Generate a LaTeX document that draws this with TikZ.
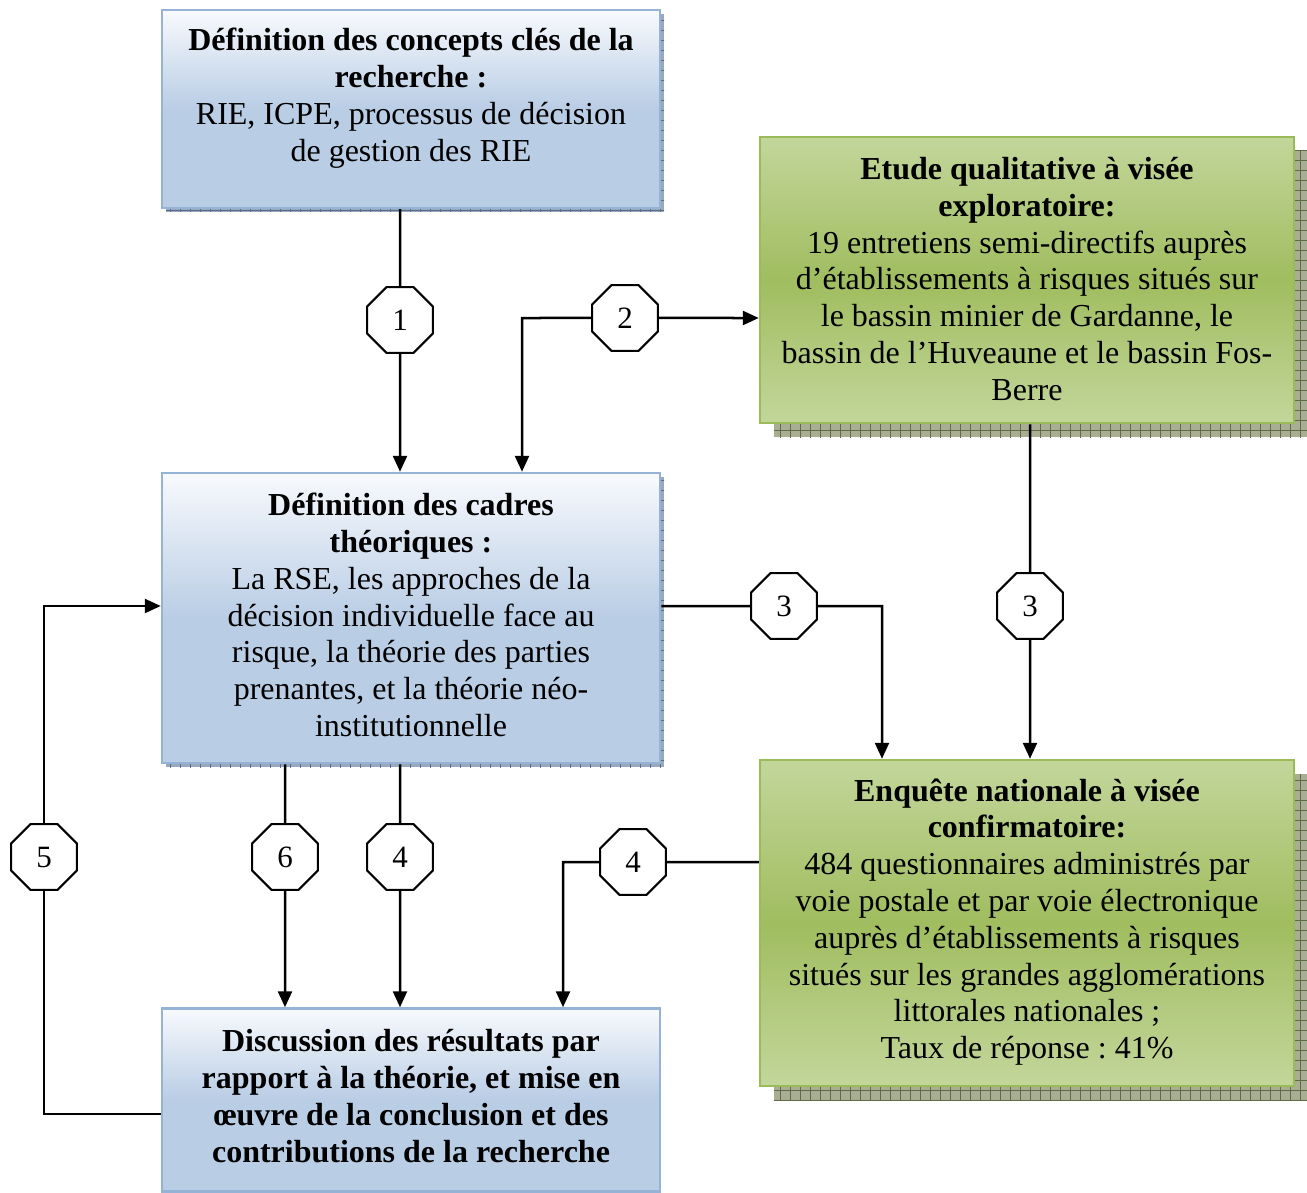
\documentclass[tikz,border=0pt]{standalone}
\usepackage{fontspec}
\setmainfont{Liberation Serif}
\usetikzlibrary{shapes.geometric,arrows.meta}
\frenchspacing
\definecolor{bT}{HTML}{F8FAFD}
\definecolor{bB}{HTML}{B9CDE5}
\definecolor{bBorder}{HTML}{95B3D7}
\definecolor{gL}{HTML}{C3D69B}
\definecolor{gD}{HTML}{A0BD5F}
\definecolor{gBorder}{HTML}{9BBB59}
\definecolor{gSh}{HTML}{A8AD94}
\definecolor{gShL}{HTML}{5E6B44}
\definecolor{bSh}{HTML}{9AA8BC}
\definecolor{bShL}{HTML}{5A6E8C}
\pgfdeclareverticalshading{blueshade}{100bp}{color(0bp)=(bB); color(50bp)=(bB); color(75bp)=(bT); color(100bp)=(bT)}
\pgfdeclareverticalshading{greenshade}{100bp}{color(0bp)=(gL); color(25bp)=(gL); color(50bp)=(gD); color(75bp)=(gL); color(100bp)=(gL)}
\tikzset{
  bluebox/.style={rectangle, draw=bBorder, line width=2.5pt, shading=blueshade, inner sep=0pt},
  greenbox/.style={rectangle, draw=gBorder, line width=2.5pt, shading=greenshade, inner sep=0pt},
  boxtext/.style={align=center, inner sep=0pt, font=\fontsize{32}{36.8}\selectfont\frenchspacing},
  octa/.style={regular polygon, regular polygon sides=8, draw=black, fill=white, line width=2pt, minimum size=71pt, inner sep=0pt, font=\fontsize{31}{36}\selectfont},
  conn/.style={line width=2.5pt, black},
  arr/.style={conn, -{Triangle[length=16pt,width=14pt]}}
}
\newcommand{\hatchshadow}[6]{%
  \begin{scope}
    \clip (#1,#2) rectangle (#3,#4);
    \fill[#5] (#1,#2) rectangle (#3,#4);
    \draw[#6, line width=0.8pt, step=10pt] (#1-10,#2-10) grid (#3+10,#4+10);
  \end{scope}}
\begin{document}
\begin{tikzpicture}[x=1pt,y=-1pt]
\useasboundingbox (0,0) rectangle (1307,1193);
% shadows
\hatchshadow{166}{14}{664}{212}{bSh}{bShL}
\hatchshadow{166}{477}{664}{767}{bSh}{bShL}
\hatchshadow{774}{151}{1307}{437}{gSh}{gShL}
\hatchshadow{774}{774}{1307}{1100}{gSh}{gShL}
% boxes
\node[bluebox, minimum width=498pt, minimum height=198pt] (A) at (411,109) {};
\node[greenbox, minimum width=534pt, minimum height=286pt] (B) at (1027,280) {};
\node[bluebox, minimum width=498pt, minimum height=290pt] (C) at (411,618) {};
\node[greenbox, minimum width=534pt, minimum height=326pt] (D) at (1027,923) {};
\node[bluebox, minimum width=498pt, minimum height=183pt] (E) at (411,1100) {};
% texts
\node[boxtext] (tA) at (411,98) {\textbf{Définition des concepts clés de la}\\\textbf{recherche :}\\RIE, ICPE, processus de décision\\de gestion des RIE};
\node[boxtext] (tB) at (1027,279) {\textbf{Etude qualitative à visée}\\\textbf{exploratoire:}\\19 entretiens semi-directifs auprès\\d’établissements à risques situés sur\\le bassin minier de Gardanne, le\\bassin de l’Huveaune et le bassin Fos-\\Berre};
\node[boxtext] (tC) at (411,615) {\textbf{Définition des cadres}\\\textbf{théoriques :}\\La RSE, les approches de la\\décision individuelle face au\\risque, la théorie des parties\\prenantes, et la théorie néo-\\institutionnelle};
\node[boxtext] (tD) at (1027,922) {\textbf{Enquête nationale à visée}\\\textbf{confirmatoire:}\\484 questionnaires administrés par\\voie postale et par voie électronique\\auprès d’établissements à risques\\situés sur les grandes agglomérations\\littorales nationales ;\\Taux de réponse : 41\%};
\node[boxtext] (tE) at (411,1096) {\textbf{Discussion des résultats par}\\\textbf{rapport à la théorie, et mise en}\\\textbf{œuvre de la conclusion et des}\\\textbf{contributions de la recherche}};
% octagons
\node[octa] (o1) at (400,320) {1};
\node[octa] (o2) at (625,318) {2};
\node[octa] (o3a) at (784,606) {3};
\node[octa] (o3b) at (1030,606) {3};
\node[octa] (o5) at (44,857) {5};
\node[octa] (o6) at (285,857) {6};
\node[octa] (o4a) at (400,857) {4};
\node[octa] (o4b) at (633,862) {4};
% helper coordinates
\coordinate (k2) at (522,318);
\coordinate (k3) at (882,606);
\coordinate (k4) at (563,862);
\coordinate (k5a) at (44,1114);
\coordinate (k5b) at (44,606);
% connectors
\draw[conn] (A.south -| o1) -- (o1);
\draw[arr] (o1) -- (o1 |- C.north);
\draw[arr] (o2) -- (k2) -- (k2 |- C.north);
\draw[arr] (o2) -- (o2 -| B.west);
\draw[conn] (C.east |- o3a) -- (o3a);
\draw[arr] (o3a) -- (k3) -- (k3 |- D.north);
\draw[conn] (B.south -| o3b) -- (o3b);
\draw[arr] (o3b) -- (o3b |- D.north);
\draw[conn] (C.south -| o6) -- (o6);
\draw[arr] (o6) -- (o6 |- E.north);
\draw[conn] (C.south -| o4a) -- (o4a);
\draw[arr] (o4a) -- (o4a |- E.north);
\draw[conn] (D.west |- o4b) -- (o4b);
\draw[arr] (o4b) -- (k4) -- (k4 |- E.north);
\draw[conn] (E.west |- k5a) -- (k5a) -- (o5);
\draw[arr] (o5) -- (k5b) -- (k5b -| C.west);
\end{tikzpicture}
\end{document}
